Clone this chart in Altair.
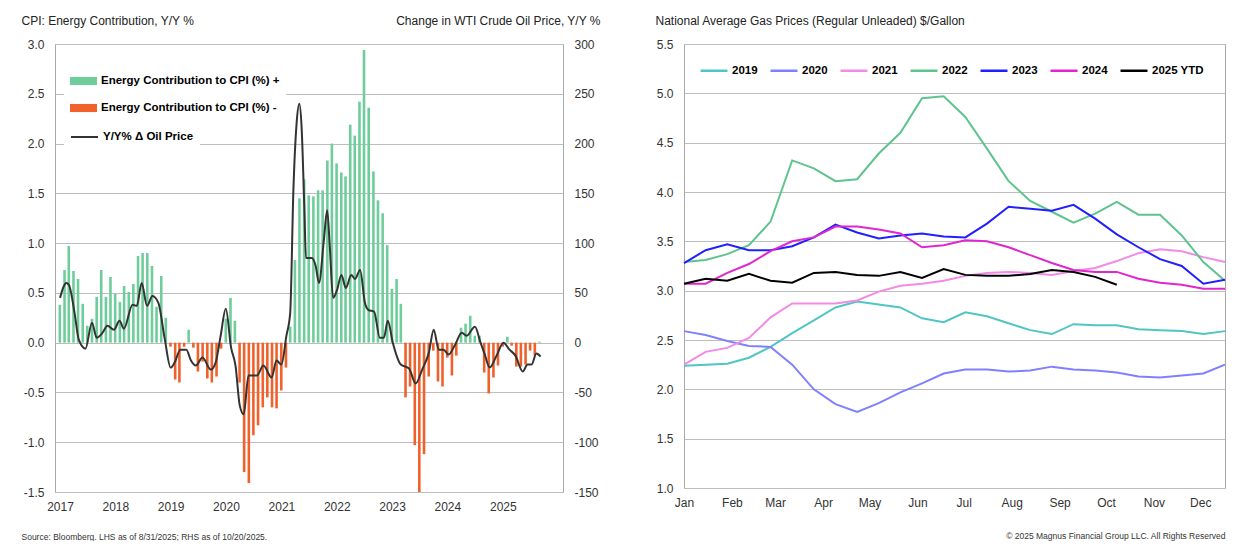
import altair as alt
import pandas as pd

REG = "Liberation Sans, Arial, sans-serif"

# ---------------- Left panel: CPI energy contribution vs WTI y/y ----------------
POS = "Energy Contribution to CPI (%) +"
NEG = "Energy Contribution to CPI (%) -"
OIL = "Y/Y% Δ Oil Price"

# monthly, Dec-2016 .. Aug-2025 (plotted at month end)
energy_contrib = [
    0.38, 0.73, 0.97, 0.72, 0.64, 0.39, 0.17, 0.24, 0.46, 0.73, 0.46, 0.66,
    0.49, 0.41, 0.57, 0.51, 0.59, 0.87, 0.90, 0.90, 0.77, 0.36, 0.67, 0.25,
    -0.04, -0.37, -0.40, -0.04, 0.13, -0.05, -0.29, -0.19, -0.36, -0.40, -0.34, -0.06,
    0.24, 0.45, 0.22, -0.40, -1.30, -1.41, -0.93, -0.83, -0.65, -0.55, -0.65, -0.66,
    -0.48, -0.25, 0.16, 0.83, 1.45, 1.64, 1.48, 1.47, 1.53, 1.53, 1.83, 2.00,
    1.80, 1.71, 1.67, 2.19, 2.08, 2.42, 2.94, 2.36, 1.72, 1.43, 1.30, 0.98,
    0.54, 0.64, 0.39, -0.55, -0.44, -1.03, -1.50, -1.12, -0.34, -0.08, -0.39, -0.44,
    -0.15, -0.33, -0.13, 0.15, 0.19, 0.27, 0.07, 0.07, -0.30, -0.51, -0.35, -0.23,
    -0.04, 0.06, -0.03, -0.24, -0.24, -0.22, -0.08, -0.13, 0.01,
]
bar_dates = pd.date_range("2017-01-01", periods=len(energy_contrib), freq="MS") - pd.Timedelta(days=1)

oil_dates = [
    "2017-01-01", "2017-02-12", "2017-03-01", "2017-04-07", "2017-05-05", "2017-06-18",
    "2017-07-31", "2017-08-31", "2017-10-09", "2017-11-10", "2017-12-23",
    "2018-01-29", "2018-02-26", "2018-04-25", "2018-05-23", "2018-06-24", "2018-07-29",
    "2018-09-03", "2018-10-12", "2018-11-24",
    "2019-01-01", "2019-01-27", "2019-03-07", "2019-04-15", "2019-05-15", "2019-06-17",
    "2019-07-30", "2019-09-23", "2019-10-25", "2019-11-27", "2019-12-31",
    "2020-02-04", "2020-03-04", "2020-04-01", "2020-04-27", "2020-05-29", "2020-07-23",
    "2020-09-04", "2020-10-28", "2020-11-30",
    "2021-01-01", "2021-02-03", "2021-02-28", "2021-03-21", "2021-04-12", "2021-04-29",
    "2021-05-14", "2021-06-01", "2021-06-12", "2021-07-20", "2021-08-15", "2021-09-06",
    "2021-10-08", "2021-10-30", "2021-11-16", "2021-12-08",
    "2022-01-03", "2022-02-01", "2022-03-02", "2022-04-07", "2022-05-02", "2022-06-04",
    "2022-07-06", "2022-07-28", "2022-09-05", "2022-10-12", "2022-11-08", "2022-12-04",
    "2023-01-06", "2023-02-28", "2023-04-23", "2023-06-06", "2023-07-19", "2023-09-01",
    "2023-10-03", "2023-11-05", "2023-12-07",
    "2024-01-09", "2024-02-21", "2024-04-05", "2024-05-07", "2024-07-01", "2024-08-07",
    "2024-09-04", "2024-10-06", "2024-11-18",
    "2025-01-05", "2025-02-14", "2025-03-25", "2025-05-12", "2025-06-13", "2025-07-10",
    "2025-08-10", "2025-09-07",
]
oil_yoy = [
    45, 60, 58, 30, 3, -6, 20, 5, 10, 17, 13,
    22, 14, 38, 37, 60, 37, 47, 40, 3,
    -25, -20, -7, -7, -18, -23, -15, -27, -20, 7, 34,
    -5, -23, -63, -72, -33, -33, -23, -35, -18,
    -22, 7, 30, 153, 222, 240, 217, 137, 85, 85, 77, 60, 103, 133, 97, 45,
    53, 68, 55, 68, 64, 73, 40, 33, 31, 5, 5, 22,
    0, -22, -26, -41, -27, -10, 13, -7, -7,
    -12, -2, 10, 7, 16, 0, -12, -25, -14,
    0, -7, -13, -29, -22, -22, -11, -14,
]

left_ticks = [-1.5, -1.0, -0.5, 0.0, 0.5, 1.0, 1.5, 2.0, 2.5, 3.0]
right_ticks = [-150, -100, -50, 0, 50, 100, 150, 200, 250, 300]
year_ticks = list(range(2017, 2026))

bar_df = pd.DataFrame({"date": bar_dates, "value": energy_contrib})
bar_df["series"] = [POS if v >= 0 else NEG for v in energy_contrib]
oil_df = pd.DataFrame({"date": pd.to_datetime(oil_dates), "yoy": oil_yoy, "series": OIL})

LEG_FONT = dict(labelFont=REG, labelFontSize=11.5, labelFontWeight="bold", labelColor="#000")

x_left = alt.X(
    "date:T",
    scale=alt.Scale(domain=[alt.DateTime(year=2017, month=1, date=1),
                            alt.DateTime(year=2025, month=12, date=31)]),
    axis=alt.Axis(
        values=[alt.DateTime(year=y, month=1, date=1) for y in year_ticks],
        format="%Y", grid=False, labelFlush=False,
        title="Source: Bloomberg. LHS as of 8/31/2025; RHS as of 10/20/2025.",
        titleX=-34, titleY=44, titleAlign="left", titleBaseline="middle",
        titleFont=REG, titleFontSize=8.5, titleFontWeight="normal", titleColor="#333",
    ),
)

bars = alt.Chart(bar_df).mark_bar(size=2.6, clip=True).encode(
    x=x_left,
    y=alt.Y(
        "value:Q",
        scale=alt.Scale(domain=[-1.5, 3.0], nice=False, zero=False),
        axis=alt.Axis(
            values=left_ticks, format=".1f", grid=True,
            labelExpr="replace(datum.label, '\u2212', '-')",
            title="CPI: Energy Contribution, Y/Y %", titleAngle=0,
            titleX=-34, titleY=-24, titleAlign="left", titleBaseline="middle",
        ),
    ),
    color=alt.Color(
        "series:N",
        scale=alt.Scale(domain=[POS, NEG], range=["#6fcd9b", "#f1612c"]),
        legend=alt.Legend(
            title=None, orient="none", legendX=9, legendY=17.5,
            symbolType="M-1,-0.3H1V0.3H-1Z", symbolSize=729, symbolStrokeWidth=0,
            labelLimit=400, rowPadding=8, labelOffset=4,
            fillColor="white", padding=6, **LEG_FONT,
        ),
    ),
)

oil_line = alt.Chart(oil_df).mark_line(interpolate="monotone", strokeWidth=2).encode(
    x=x_left,
    y=alt.Y(
        "yoy:Q",
        scale=alt.Scale(domain=[-150, 300], nice=False, zero=False),
        axis=alt.Axis(
            orient="right", values=right_ticks, format="d", grid=False,
            labelExpr="replace(datum.label, '\u2212', '-')",
            title="Change in WTI Crude Oil Price, Y/Y %", titleAngle=0,
            titleX=37, titleY=-24, titleAlign="right", titleBaseline="middle",
        ),
    ),
    stroke=alt.Stroke(
        "series:N",
        scale=alt.Scale(domain=[OIL], range=["#333333"]),
        legend=alt.Legend(
            title=None, orient="none", legendX=9, legendY=72.5,
            symbolType="stroke", symbolSize=729, symbolStrokeWidth=2,
            labelLimit=400, labelOffset=4,
            fillColor="white", padding=6, **LEG_FONT,
        ),
    ),
)

left = alt.layer(bars, oil_line).resolve_scale(y="independent").properties(width=508, height=448)

# ---------------- Right panel: national average gas prices ----------------
years = ["2019", "2020", "2021", "2022", "2023", "2024", "2025 YTD"]
year_colors = ["#4fc6c4", "#8080ff", "#f28ae6", "#5fc38f", "#2020ff", "#e026cf", "#000000"]

# bi-weekly points from Jan 1
gas_2019 = [2.24, 2.25, 2.26, 2.32, 2.43, 2.57, 2.70, 2.83, 2.89, 2.86, 2.83, 2.72, 2.68,
            2.78, 2.74, 2.67, 2.60, 2.56, 2.66, 2.65, 2.65, 2.61, 2.60, 2.59, 2.56, 2.59]
gas_2020 = [2.59, 2.55, 2.49, 2.44, 2.43, 2.25, 2.00, 1.85, 1.77, 1.86, 1.97, 2.06, 2.16,
            2.20, 2.20, 2.18, 2.19, 2.23, 2.20, 2.19, 2.17, 2.13, 2.12, 2.14, 2.16, 2.25]
gas_2021 = [2.25, 2.38, 2.42, 2.52, 2.73, 2.87, 2.87, 2.87, 2.90, 2.99, 3.05, 3.07, 3.10,
            3.15, 3.18, 3.19, 3.18, 3.16, 3.20, 3.23, 3.30, 3.38, 3.42, 3.40, 3.34, 3.29]
gas_2022 = [3.29, 3.31, 3.37, 3.46, 3.70, 4.32, 4.24, 4.11, 4.13, 4.39, 4.60, 4.95, 4.97,
            4.76, 4.44, 4.11, 3.91, 3.80, 3.69, 3.78, 3.90, 3.77, 3.77, 3.56, 3.29, 3.10]
gas_2023 = [3.28, 3.41, 3.47, 3.41, 3.41, 3.45, 3.54, 3.67, 3.59, 3.53, 3.56, 3.58, 3.55,
            3.54, 3.68, 3.85, 3.83, 3.81, 3.87, 3.73, 3.57, 3.44, 3.32, 3.25, 3.07, 3.11]
gas_2024 = [3.07, 3.07, 3.18, 3.27, 3.40, 3.50, 3.54, 3.65, 3.65, 3.62, 3.58, 3.44, 3.46,
            3.51, 3.50, 3.44, 3.36, 3.28, 3.21, 3.19, 3.19, 3.12, 3.08, 3.06, 3.02, 3.02]
gas_2025 = [3.07, 3.12, 3.10, 3.17, 3.10, 3.08, 3.18, 3.19, 3.16, 3.15, 3.19, 3.13, 3.22,
            3.16, 3.15, 3.15, 3.17, 3.21, 3.19, 3.14, 3.06]

gas_series = [gas_2019, gas_2020, gas_2021, gas_2022, gas_2023, gas_2024, gas_2025]
gas_dates = pd.date_range("2001-01-01", periods=26, freq="14D")
gas_ticks = [1.0, 1.5, 2.0, 2.5, 3.0, 3.5, 4.0, 4.5, 5.0, 5.5]

rows = []
for order, (yr, vals) in enumerate(zip(years, gas_series)):
    for d, v in zip(gas_dates, vals):
        rows.append({"date": d, "price": v, "year": yr, "ord": order})
gas_df = pd.DataFrame(rows)

right = alt.Chart(gas_df).mark_line(strokeWidth=2).encode(
    x=alt.X(
        "date:T",
        scale=alt.Scale(domain=[alt.DateTime(year=2001, month=1, date=1),
                                alt.DateTime(year=2001, month=12, date=17)]),
        axis=alt.Axis(
            values=[alt.DateTime(year=2001, month=m, date=1) for m in range(1, 13)],
            format="%b", grid=False, labelFlush=False,
            title="© 2025 Magnus Financial Group LLC. All Rights Reserved",
            titleX=541, titleY=47, titleAlign="right", titleBaseline="middle",
            titleFont=REG, titleFontSize=8.5, titleFontWeight="normal", titleColor="#333",
        ),
    ),
    y=alt.Y(
        "price:Q",
        scale=alt.Scale(domain=[1.0, 5.5], nice=False, zero=False),
        axis=alt.Axis(
            values=gas_ticks, format=".1f", grid=True,
            title="National Average Gas Prices (Regular Unleaded) $/Gallon", titleAngle=0,
            titleX=-29, titleY=-24, titleAlign="left", titleBaseline="middle",
        ),
    ),
    color=alt.Color(
        "year:N",
        scale=alt.Scale(domain=years, range=year_colors),
        legend=alt.Legend(
            title=None, orient="none", legendX=15, legendY=11.5, direction="horizontal",
            symbolType="stroke", symbolSize=729, symbolStrokeWidth=2.5,
            labelOffset=3, columnPadding=7, padding=0, **LEG_FONT,
        ),
    ),
    order=alt.Order("ord:Q"),
).properties(width=541, height=444)

chart = (
    alt.hconcat(left, right, spacing=53)
    .resolve_scale(color="independent")
    .resolve_legend(color="independent")
    .properties(padding={"left": 12, "top": 5, "right": 5, "bottom": 0})
    .configure_view(stroke="#a8a8a8", strokeWidth=1)
    .configure_axis(
        labelFont=REG, labelFontSize=12, labelColor="#333", labelPadding=11,
        titleFont=REG, titleFontSize=12, titleFontWeight="normal", titleColor="#222",
        domain=False, ticks=False, gridColor="#bdbdbd", gridWidth=1,
    )
    .configure_axisX(labelPadding=9)
)

chart.save("out.html", embed_options={"renderer": "svg", "actions": False})
